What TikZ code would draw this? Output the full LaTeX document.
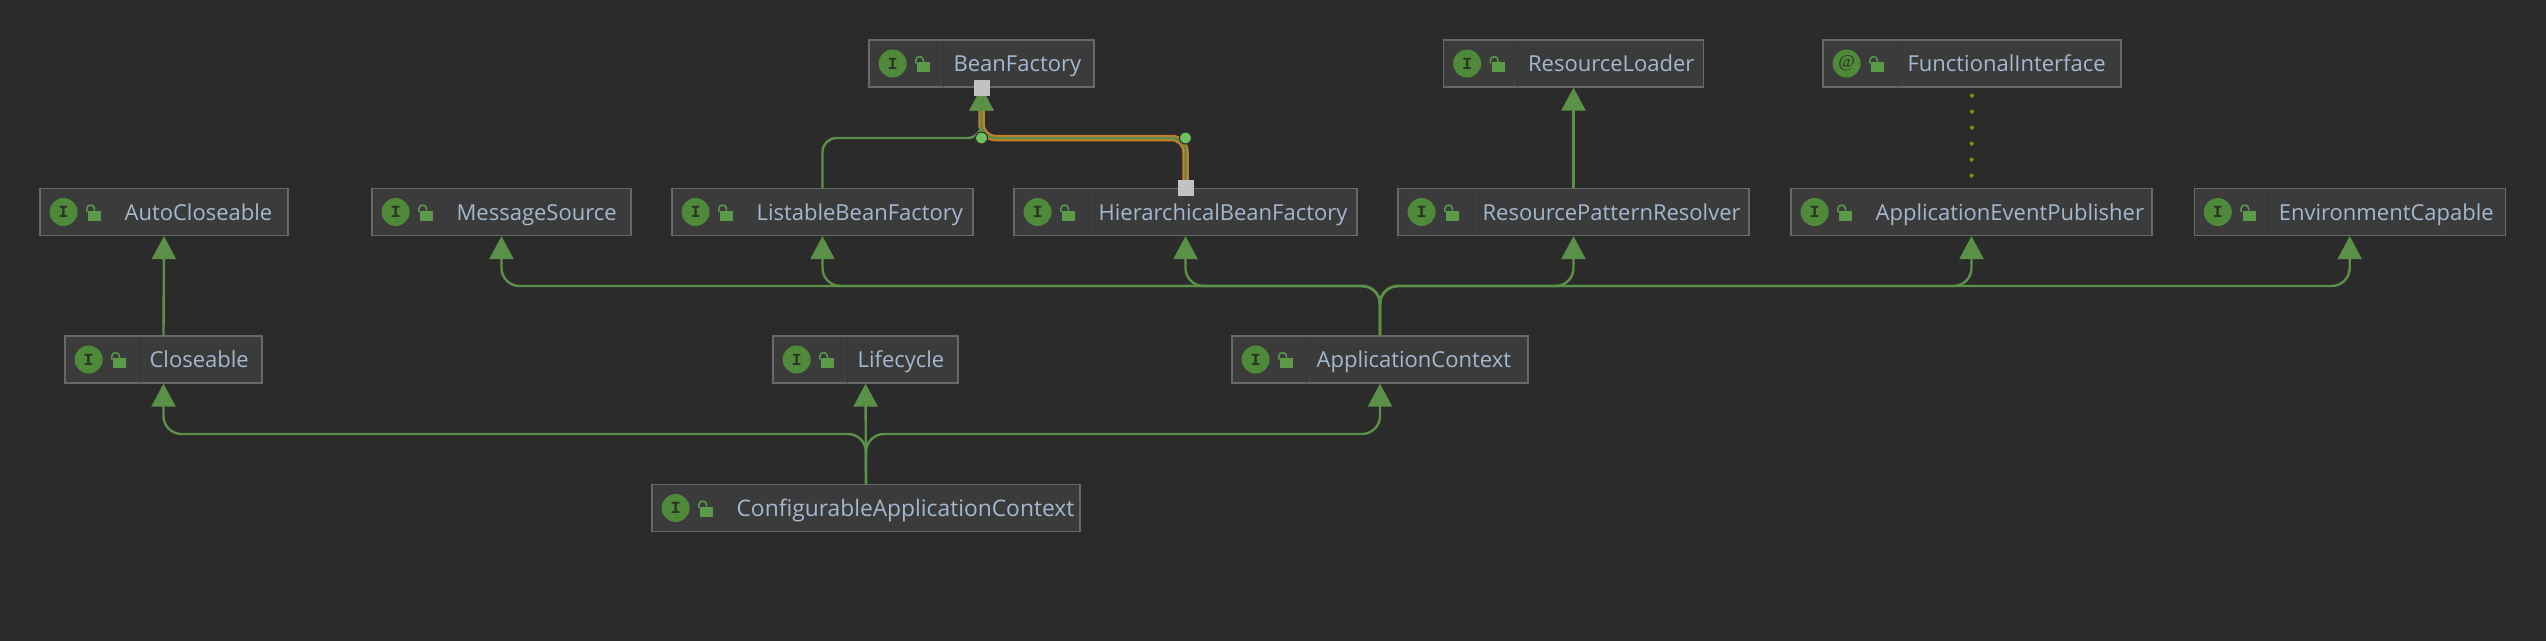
\documentclass[tikz,border=0pt]{standalone}
\usepackage{fontspec}
\setmainfont{Open Sans}
\newfontfamily\badgefont{Liberation Mono}
\newfontfamily\atfont{Liberation Serif}
\usetikzlibrary{positioning,arrows.meta}
\definecolor{canvas}{HTML}{2B2B2B}
\definecolor{boxfill}{HTML}{3B3B3B}
\definecolor{boxline}{HTML}{686868}
\definecolor{boxrule}{HTML}{363636}
\definecolor{labeltext}{HTML}{A4B8D0}
\definecolor{badge}{HTML}{4F8A3B}
\definecolor{badgetext}{HTML}{2A3526}
\definecolor{lockgreen}{HTML}{5A9A48}
\definecolor{edgegreen}{HTML}{5B9049}
\definecolor{pickorange}{HTML}{C77B2B}
\definecolor{jointgreen}{HTML}{72BE62}
\definecolor{handle}{HTML}{C2C2C2}
\definecolor{dotyellow}{HTML}{8F8F00}
\tikzset{
  ifacebox/.style={rectangle, fill=boxfill, draw=boxline, line width=1.2pt, minimum height=47pt, inner sep=0pt},
  ifacebadge/.style={circle, fill=badge, minimum size=28pt, inner sep=0pt, text=badgetext, font=\badgefont\bfseries\fontsize{17}{17}\selectfont},
  ifacelabel/.style={inner sep=0pt, text=labeltext, text height=18pt, text depth=2pt, font=\fontsize{22}{26}\selectfont},
  extends/.style={draw=edgegreen, line width=2.4pt, rounded corners=18pt, -{Triangle[length=23pt,width=24pt,fill=edgegreen]}},
  joint/.style={circle, fill=jointgreen, draw=canvas, line width=1pt, minimum size=12pt, inner sep=0pt},
  grip/.style={rectangle, fill=handle, minimum size=16pt, inner sep=0pt},
  lockicon/.pic={
    \draw[boxrule, line width=1pt] (75,-23) -- (75,23);
    \fill[lockgreen] (49,-1.5) rectangle (62,8.5);
    \draw[lockgreen, line width=1.5pt] (47.5,0) -- (47.5,-3.5) .. controls (47.5,-8) and (55,-8) .. (55,-3.5) -- (55,-1.5);
  }
}
\begin{document}
\begin{tikzpicture}[x=1pt,y=-1pt]
\useasboundingbox (0,0) rectangle (2546,640);
\fill[canvas] (-2,-2) rectangle (2548,642);
\node [ifacebox, minimum width=225pt] (beanfactory) at (981.5,63.5) {};
\node [ifacebox, minimum width=260pt] (resourceloader) at (1573.5,63.5) {};
\node [ifacebox, minimum width=298pt] (functional) at (1972,63.5) {};
\node [ifacebox, minimum width=248pt] (autocloseable) at (164,212) {};
\node [ifacebox, minimum width=259pt] (messagesource) at (501.5,212) {};
\node [ifacebox, minimum width=301pt] (listable) at (822.5,212) {};
\node [ifacebox, minimum width=343pt] (hierarchical) at (1185.5,212) {};
\node [ifacebox, minimum width=351pt] (patternresolver) at (1573.5,212) {};
\node [ifacebox, minimum width=361pt] (eventpublisher) at (1971.5,212) {};
\node [ifacebox, minimum width=311pt] (environment) at (2349.7,212) {};
\node [ifacebox, minimum width=197pt] (closeable) at (163.5,359.5) {};
\node [ifacebox, minimum width=185pt] (lifecycle) at (865.5,359.5) {};
\node [ifacebox, minimum width=296pt] (appcontext) at (1380,359.5) {};
\node [ifacebox, minimum width=428pt] (configurable) at (866,508) {};
\node [ifacebadge, right=10pt of beanfactory.west] (beanfactorybadge) {I};
\node [ifacebadge, right=10pt of resourceloader.west] (resourceloaderbadge) {I};
\node [ifacebadge, right=10pt of functional.west, font=\atfont\fontsize{18}{18}\selectfont] (functionalbadge) {@};
\node [ifacebadge, right=10pt of autocloseable.west] (autocloseablebadge) {I};
\node [ifacebadge, right=10pt of messagesource.west] (messagesourcebadge) {I};
\node [ifacebadge, right=10pt of listable.west] (listablebadge) {I};
\node [ifacebadge, right=10pt of hierarchical.west] (hierarchicalbadge) {I};
\node [ifacebadge, right=10pt of patternresolver.west] (patternresolverbadge) {I};
\node [ifacebadge, right=10pt of eventpublisher.west] (eventpublisherbadge) {I};
\node [ifacebadge, right=10pt of environment.west] (environmentbadge) {I};
\node [ifacebadge, right=10pt of closeable.west] (closeablebadge) {I};
\node [ifacebadge, right=10pt of lifecycle.west] (lifecyclebadge) {I};
\node [ifacebadge, right=10pt of appcontext.west] (appcontextbadge) {I};
\node [ifacebadge, right=10pt of configurable.west] (configurablebadge) {I};
\pic at (beanfactory.west) {lockicon};
\pic at (resourceloader.west) {lockicon};
\pic at (functional.west) {lockicon};
\pic at (autocloseable.west) {lockicon};
\pic at (messagesource.west) {lockicon};
\pic at (listable.west) {lockicon};
\pic at (hierarchical.west) {lockicon};
\pic at (patternresolver.west) {lockicon};
\pic at (eventpublisher.west) {lockicon};
\pic at (environment.west) {lockicon};
\pic at (closeable.west) {lockicon};
\pic at (lifecycle.west) {lockicon};
\pic at (appcontext.west) {lockicon};
\pic at (configurable.west) {lockicon};
\node [ifacelabel, right=85pt of beanfactory.west] (beanfactorytext) {BeanFactory};
\node [ifacelabel, right=85pt of resourceloader.west] (resourceloadertext) {ResourceLoader};
\node [ifacelabel, right=85pt of functional.west] (functionaltext) {FunctionalInterface};
\node [ifacelabel, right=85pt of autocloseable.west] (autocloseabletext) {AutoCloseable};
\node [ifacelabel, right=85pt of messagesource.west] (messagesourcetext) {MessageSource};
\node [ifacelabel, right=85pt of listable.west] (listabletext) {ListableBeanFactory};
\node [ifacelabel, right=85pt of hierarchical.west] (hierarchicaltext) {HierarchicalBeanFactory};
\node [ifacelabel, right=85pt of patternresolver.west] (patternresolvertext) {ResourcePatternResolver};
\node [ifacelabel, right=85pt of eventpublisher.west] (eventpublishertext) {ApplicationEventPublisher};
\node [ifacelabel, right=85pt of environment.west] (environmenttext) {EnvironmentCapable};
\node [ifacelabel, right=85pt of closeable.west] (closeabletext) {Closeable};
\node [ifacelabel, right=85pt of lifecycle.west] (lifecycletext) {Lifecycle};
\node [ifacelabel, right=85pt of appcontext.west] (appcontexttext) {ApplicationContext};
\node [ifacelabel, right=85pt of configurable.west, font=\fontsize{22.8}{26}\selectfont] (configurabletext) {ConfigurableApplicationContext};
\coordinate (topleft) at (981.5,138);
\coordinate (topright) at (1185.5,138);
\coordinate (arrowbase) at (981.5,110);
\coordinate (upperbus) at (1380,286);
\coordinate (lowerbus) at (866,434);
\draw [draw=pickorange, line width=6.5pt, rounded corners=14pt] (hierarchical.north) -- (topright) -- (topleft) -- (arrowbase);
\draw [extends, rounded corners=14pt] (hierarchical.north) -- (topright) -- (topleft) -- (beanfactory.south);
\draw [extends, rounded corners=14pt] (listable.north) |- (topleft) -- (beanfactory.south);
\draw [extends] (closeable.north) -- (autocloseable.south);
\draw [extends] (patternresolver.north) -- (resourceloader.south);
\draw [extends] (appcontext.north) -- (upperbus) -| (messagesource.south);
\draw [extends] (appcontext.north) -- (upperbus) -| (listable.south);
\draw [extends] (appcontext.north) -- (upperbus) -| (hierarchical.south);
\draw [extends] (appcontext.north) -- (upperbus) -| (patternresolver.south);
\draw [extends] (appcontext.north) -- (upperbus) -| (eventpublisher.south);
\draw [extends] (appcontext.north) -- (upperbus) -| (environment.south);
\draw [extends] (configurable.north) -- (lowerbus) -| (closeable.south);
\draw [extends] (configurable.north) -- (lifecycle.south);
\draw [extends] (configurable.north) -- (lowerbus) -| (appcontext.south);
\draw [dotyellow, line width=4pt, line cap=round, dash pattern=on 0pt off 16pt, dash phase=8pt, shorten >=6pt] (functional.south) -- (eventpublisher.north);
\node [joint] (leftjoint) at (topleft) {};
\node [joint] (rightjoint) at (topright) {};
\node [grip] (sourcegrip) at (hierarchical.north) {};
\node [grip] (targetgrip) at (beanfactory.south) {};
\end{tikzpicture}
\end{document}
